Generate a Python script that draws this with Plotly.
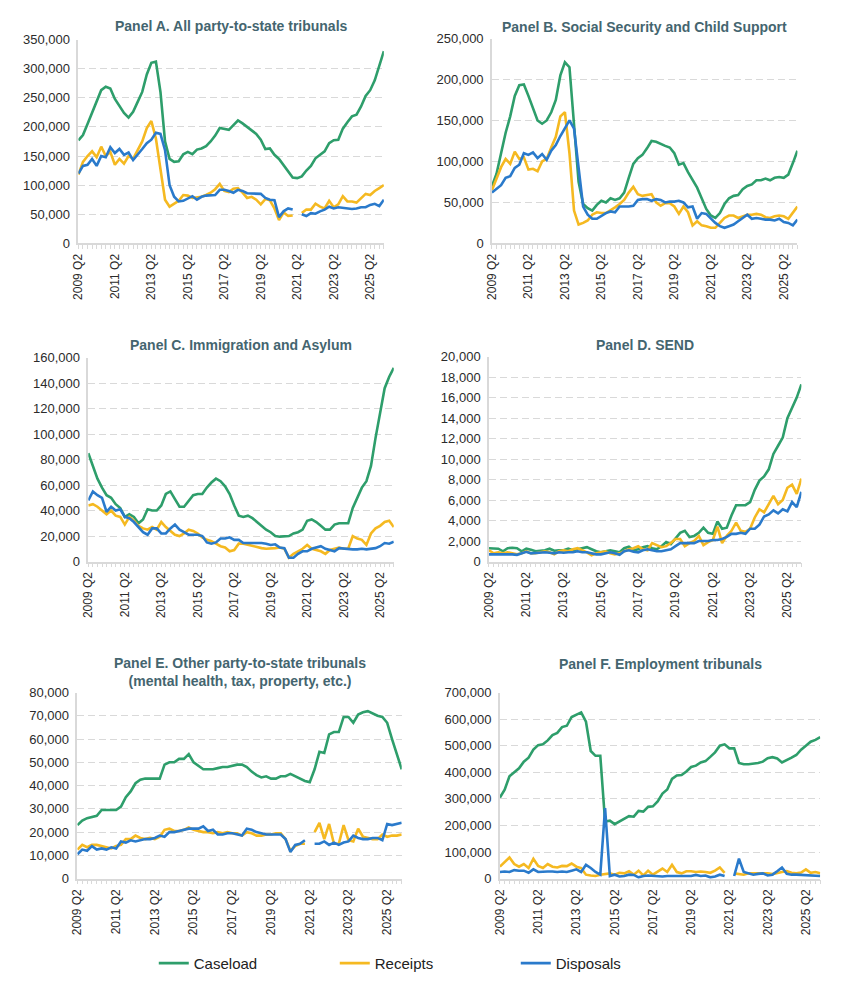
import plotly.graph_objects as go

# ---------------- categories ----------------
QUARTERS = [f"{2009 + (k + 1) // 4} Q{(k + 1) % 4 + 1}" for k in range(68)]  # 2009 Q2 ... 2026 Q1
TICK_LABELS = ["2009 Q2", "2011 Q2", "2013 Q2", "2015 Q2", "2017 Q2",
               "2019 Q2", "2021 Q2", "2023 Q2", "2025 Q2"]

# ---------------- Panel A: All party-to-state tribunals ----------------
a_caseload = [177000, 186000, 205000, 225000, 243000, 263000, 269000, 266000,
              248000, 237000, 224000, 216000, 226000, 243000, 260000, 290000,
              310000, 312000, 260000, 175000, 145000, 140000, 141000, 153000,
              157000, 153000, 161000, 163000, 167000, 175000, 185000, 198000,
              197000, 195000, 203000, 211000, 206000, 200000, 193000, 188000,
              178000, 162000, 163000, 152000, 145000, 135000, 124000, 113000,
              112000, 115000, 125000, 133000, 146000, 152000, 158000, 172000,
              177000, 178000, 197000, 208000, 218000, 221000, 235000, 253000,
              263000, 280000, 305000, 330000]
a_receipts = [118000, 140000, 150000, 158000, 148000, 166000, 150000, 157000,
              135000, 145000, 137000, 150000, 145000, 160000, 175000, 198000,
              210000, 180000, 125000, 75000, 63000, 68000, 73000, 83000,
              82000, 78000, 79000, 80000, 83000, 87000, 93000, 102000,
              90000, 88000, 94000, 95000, 87000, 78000, 80000, 75000,
              67000, 76000, 74000, 60000, 40000, 53000, 47000, 48000,
              None, 52000, 58000, 58000, 68000, 63000, 60000, 73000,
              62000, 67000, 81000, 72000, 72000, 70000, 77000, 85000,
              83000, 90000, 95000, 100000]
a_disposals = [120000, 133000, 135000, 145000, 133000, 150000, 148000, 165000,
               155000, 162000, 152000, 156000, 143000, 152000, 162000, 172000,
               178000, 190000, 188000, 160000, 100000, 80000, 72000, 73000,
               77000, 81000, 75000, 80000, 82000, 83000, 83000, 92000,
               92000, 90000, 87000, 92000, 90000, 86000, 86000, 86000,
               85000, 78000, 75000, 74000, 45000, 55000, 60000, 58000,
               None, 50000, 47000, 52000, 51000, 55000, 58000, 63000,
               60000, 62000, 61000, 60000, 59000, 60000, 62000, 62000,
               66000, 68000, 64000, 75000]

# ---------------- Panel B: Social Security and Child Support ----------------
b_caseload = [70000, 85000, 110000, 135000, 155000, 180000, 193000, 194000,
              180000, 165000, 150000, 146000, 150000, 160000, 175000, 205000,
              221000, 215000, 150000, 75000, 48000, 43000, 40000, 47000,
              52000, 50000, 55000, 53000, 55000, 62000, 80000, 97000,
              104000, 108000, 116000, 125000, 124000, 121000, 119000, 117000,
              110000, 96000, 98000, 87000, 78000, 68000, 55000, 42000,
              34000, 31000, 37000, 48000, 55000, 58000, 59000, 66000,
              70000, 72000, 77000, 77000, 79000, 77000, 80000, 81000,
              80000, 84000, 98000, 113000]
b_receipts = [65000, 80000, 93000, 103000, 97000, 112000, 103000, 105000,
              90000, 91000, 88000, 100000, 103000, 117000, 130000, 155000,
              160000, 110000, 40000, 23000, 25000, 28000, 35000, 38000,
              37000, 37000, 40000, 44000, 48000, 53000, 62000, 69000,
              60000, 58000, 59000, 60000, 50000, 46000, 49000, 49000,
              45000, 36000, 45000, 38000, 22000, 27000, 22000, 21000,
              19000, 19000, 25000, 31000, 34000, 34000, 31000, 33000,
              35000, 35000, 36000, 35000, 32000, 31000, 33000, 34000,
              33000, 30000, 37000, 45000]
b_disposals = [62000, 66000, 71000, 80000, 82000, 92000, 96000, 110000,
               108000, 111000, 104000, 109000, 102000, 113000, 120000, 131000,
               141000, 150000, 140000, 90000, 45000, 35000, 30000, 30000,
               34000, 37000, 39000, 38000, 45000, 45000, 45000, 46000,
               53000, 54000, 54000, 52000, 54000, 53000, 50000, 51000,
               51000, 52000, 50000, 44000, 45000, 30000, 37000, 36000,
               30000, 25000, 21000, 19000, 21000, 23000, 27000, 31000,
               35000, 30000, 31000, 30000, 29000, 29000, 28000, 30000,
               26000, 25000, 22000, 29000]

# ---------------- Panel C: Immigration and Asylum ----------------
c_caseload = [85000, 75000, 65000, 58000, 52000, 50000, 45000, 42000,
              35000, 37000, 35000, 30000, 33000, 41000, 40000, 40000,
              44000, 53000, 55000, 49000, 43000, 43000, 48000, 52000,
              53000, 53000, 58000, 62000, 65000, 63000, 59000, 53000,
              44000, 36000, 35000, 36000, 34000, 31000, 28000, 25000,
              23000, 20000, 19500, 20000, 20000, 22000, 23000, 25000,
              32000, 33000, 31000, 28000, 25000, 25000, 29000, 30000,
              30000, 30000, 42000, 50000, 58000, 63000, 75000, 97000,
              118000, 136000, 145000, 152000]
c_receipts = [44000, 45000, 43000, 40000, 37000, 40000, 36000, 35000,
              29000, 35000, 32000, 28000, 26000, 25000, 27000, 25000,
              31000, 27000, 24000, 21000, 20000, 22000, 25000, 24000,
              22000, 19000, 17000, 16000, 14000, 12000, 11000, 8000,
              9000, 14000, 14000, 13000, 12000, 11000, 10500, 10000,
              10000, 10500, 11000, 10000, 3000, 6000, 8000, 10000,
              13000, 10000, 9000, 8000, 6000, 9000, 10000, 11000,
              10000, 10000, 20000, 18000, 17000, 13000, 22000, 26000,
              28000, 31000, 32000, 27000]
c_disposals = [48000, 55000, 52000, 50000, 39000, 43000, 40000, 41000,
               35000, 34000, 31000, 27000, 23000, 21000, 26000, 26000,
               22000, 22000, 26000, 29000, 25000, 23000, 21000, 21000,
               21000, 20000, 15000, 14000, 15000, 18000, 18000, 19000,
               17000, 17000, 14500, 14500, 14500, 15000, 14500, 14000,
               13000, 13500, 11000, 10500, 3000, 3000, 6000, 8000,
               8000, 10000, 11000, 12000, 10000, 9000, 8000, 10500,
               10000, 10000, 9500, 9500, 10000, 9500, 10000, 10500,
               12000, 14500, 14000, 15500]

# ---------------- Panel D: SEND ----------------
d_caseload = [1300, 1300, 1250, 1000, 1300, 1350, 1300, 1000,
              1250, 1150, 1000, 1050, 1100, 1250, 1050, 1100,
              1100, 1250, 1100, 1200, 1300, 1400, 1200, 1000,
              900, 1000, 1100, 1000, 900, 1300, 1450, 1100,
              1200, 1400, 1500, 1300, 1200, 1500, 1900, 1700,
              2200, 2800, 3000, 2400, 2500, 2800, 3300, 2800,
              2700, 3900, 3200, 3300, 4500, 5500, 5500, 5500,
              5800, 7000, 7900, 8300, 9000, 10500, 11300, 12100,
              14000, 15000, 16000, 17300]
d_receipts = [1100, 800, 900, 800, 900, 800, 700, 800,
              1000, 800, 800, 900, 1000, 900, 700, 1000,
              1100, 1000, 1200, 1300, 1100, 900, 600, 800,
              900, 1000, 800, 700, 800, 1000, 1200, 1300,
              1500, 1200, 1100, 1800, 1600, 1400, 1500, 1800,
              2200, 2200, 1500, 1800, 2000, 2500, 1600, 1900,
              2100, 3400, 1800, 2500, 3000, 3800, 3000, 2900,
              3200, 4300, 5100, 4800, 5600, 6400, 5600, 6000,
              7200, 7500, 6600, 8100]
d_disposals = [700, 700, 700, 700, 750, 700, 650, 800,
               950, 800, 850, 900, 900, 850, 800, 900,
               850, 900, 900, 1000, 900, 900, 800, 700,
               700, 800, 900, 800, 650, 1000, 1100, 950,
               900, 1100, 1200, 1100, 1000, 1000, 1100, 1200,
               1500, 1800, 1800, 1800, 1800, 2000, 2000, 2000,
               2100, 2100, 2200, 2400, 2700, 2700, 2800, 2700,
               3200, 3200, 3600, 4400, 4600, 5000, 4700, 5100,
               4900, 5800, 5300, 6800]

# ---------------- Panel E: Other party-to-state tribunals ----------------
e_caseload = [23000, 25000, 26000, 26500, 27000, 29500, 29500, 29500,
              29500, 31000, 35000, 37500, 41000, 42500, 43000, 43000,
              43000, 43000, 49000, 50000, 50000, 51500, 51500, 53500,
              50000, 48500, 47000, 47000, 47000, 47500, 48000, 48000,
              48500, 49000, 49000, 48000, 46000, 44500, 43500, 44000,
              43000, 43000, 44000, 44000, 45000, 44000, 43000, 42000,
              41500, 47000, 54500, 54000, 62000, 63000, 63000, 69500,
              69500, 67000, 70500, 71500, 72000, 71000, 70000, 69500,
              67000, 60000, 53000, 47000]
e_receipts = [12500, 14500, 13500, 14500, 14500, 14000, 13500, 13000,
              14000, 14500, 17000, 17000, 18500, 17500, 17000, 17500,
              17000, 18000, 21000, 21500, 20500, 20500, 21000, 22000,
              21000, 20500, 20000, 20000, 19500, 20000, 19500, 20000,
              19500, 19500, 18500, 20000, 19500, 18500, 18500, 19000,
              19000, 19500, 19500, 17000, 12000, 14000, 15000, 15000,
              None, 20000, 24000, 17000, 23500, 15000, 15000, 23000,
              16500, 16000, 21500, 18000, 17500, 17000, 17000, 19000,
              18000, 18500, 18500, 19000]
e_disposals = [10500, 12500, 12000, 14000, 12500, 13000, 12500, 13500,
               13000, 16000, 15500, 16500, 16000, 16500, 17000, 17000,
               17500, 18500, 18000, 20000, 20000, 20500, 21000, 21500,
               21500, 21500, 22500, 20500, 21000, 19000, 19000, 19500,
               19500, 19000, 18500, 21500, 21000, 20000, 19500, 19000,
               19000, 19000, 19000, 17000, 11500, 14500, 15000, 16500,
               None, 15000, 15000, 16000, 14500, 15500, 14500, 15500,
               16000, 18500, 17500, 17000, 17000, 17500, 17500, 16500,
               23500, 23000, 23500, 24000]

# ---------------- Panel F: Employment tribunals ----------------
f_caseload = [305000, 335000, 385000, 400000, 415000, 440000, 455000, 485000,
              502000, 505000, 520000, 540000, 548000, 570000, 575000, 608000,
              615000, 625000, 590000, 480000, 462000, 462000, 215000, 218000,
              205000, 215000, 222000, 235000, 233000, 255000, 252000, 270000,
              272000, 290000, 320000, 335000, 375000, 388000, 390000, 403000,
              420000, 425000, 437000, 442000, 458000, 475000, 500000, 505000,
              490000, 490000, 435000, 430000, 430000, 432000, 435000, 440000,
              453000, 457000, 452000, 437000, 445000, 455000, 465000, 485000,
              500000, 515000, 522000, 532000]
f_receipts = [45000, 62000, 80000, 55000, 45000, 55000, 40000, 75000,
              48000, 40000, 55000, 45000, 42000, 48000, 47000, 57000,
              45000, 40000, 15000, 12000, 10000, 15000, 18000, 20000,
              15000, 22000, 20000, 28000, 15000, 30000, 12000, 30000,
              15000, 25000, 38000, 25000, 52000, 25000, 20000, 28000,
              28000, 25000, 27000, 25000, 22000, 30000, 42000, 22000,
              None, 20000, 18000, 15000, 20000, 20000, 22000, 22000,
              20000, 17000, 22000, 25000, 28000, 22000, 20000, 23000,
              35000, 22000, 25000, 20000]
f_disposals = [25000, 27000, 25000, 32000, 30000, 30000, 22000, 35000,
               25000, 27000, 27000, 27000, 25000, 27000, 25000, 30000,
               35000, 25000, 52000, 40000, 25000, 15000, 265000, 10000,
               15000, 8000, 10000, 15000, 14000, 5000, 10000, 12000,
               10000, 8000, 8000, 10000, 10000, 9000, 10000, 11000,
               10000, 14000, 10000, 12000, 5000, 8000, 15000, 10000,
               None, 10000, 75000, 25000, 20000, 15000, 18000, 20000,
               12000, 15000, 28000, 42000, 18000, 15000, 15000, 14000,
               12000, 10000, 10000, 10000]

PANELS = [
    dict(title="Panel A. All party-to-state tribunals", series=(a_caseload, a_receipts, a_disposals),
         ymax=350000, dtick=50000),
    dict(title="Panel B. Social Security and Child Support", series=(b_caseload, b_receipts, b_disposals),
         ymax=250000, dtick=50000),
    dict(title="Panel C. Immigration and Asylum", series=(c_caseload, c_receipts, c_disposals),
         ymax=160000, dtick=20000),
    dict(title="Panel D. SEND", series=(d_caseload, d_receipts, d_disposals),
         ymax=20000, dtick=2000),
    dict(title="Panel E. Other party-to-state tribunals<br>(mental health, tax, property, etc.)",
         series=(e_caseload, e_receipts, e_disposals), ymax=80000, dtick=10000),
    dict(title="Panel F. Employment tribunals", series=(f_caseload, f_receipts, f_disposals),
         ymax=700000, dtick=100000),
]
SERIES_NAMES = ["Caseload", "Receipts", "Disposals"]
COLORS = ["#2E9E6B", "#F5B921", "#2A7ACB"]

for p in PANELS:
    for s in p["series"]:
        assert len(s) == len(QUARTERS), (p["title"], len(s))

# ---------------- layout geometry (pixels) ----------------
W, H = 848, 995
# (x0, x1, ytop, ybottom, title_y)
GEOM = [
    (72, 380, 33, 240, 19),
    (489, 797, 32, 240, 20),
    (82, 390, 356, 563, 343),
    (486, 801, 355, 563, 343),
    (71, 398, 696, 885, 675),
    (497, 820, 696, 885, 667),
]

FONT = "Liberation Sans, Arial, sans-serif"
GRID = "#D9D9D9"
TITLE_COLOR = "#44656F"
TEXT_COLOR = "#2B2B2B"

fig = go.Figure()
ticktext = [q if q in TICK_LABELS else "" for q in QUARTERS]

for k, (p, g) in enumerate(zip(PANELS, GEOM)):
    x0, x1, yt, yb, ty = g
    sfx = "" if k == 0 else str(k + 1)
    for j, (name, vals) in enumerate(zip(SERIES_NAMES, p["series"])):
        fig.add_trace(go.Scatter(
            x=QUARTERS, y=vals, name=name, mode="lines",
            line=dict(color=COLORS[j], width=2.6),
            xaxis="x" + sfx, yaxis="y" + sfx,
            legendgroup=name, showlegend=(k == 0),
            connectgaps=False,
        ))
    fig.layout["xaxis" + sfx] = dict(
        domain=[x0 / W, x1 / W], anchor="y" + sfx, type="category",
        categoryorder="array", categoryarray=QUARTERS,
        range=[0, len(QUARTERS) - 1],
        tickmode="array", tickvals=QUARTERS, ticktext=ticktext,
        tickangle=-90, ticks="outside", ticklen=4, tickcolor=GRID,
        showline=True, linecolor=GRID, linewidth=1.5,
        showgrid=False, zeroline=False,
        tickfont=dict(family=FONT, size=12, color=TEXT_COLOR),
    )
    fig.layout["yaxis" + sfx] = dict(
        domain=[1 - yb / H, 1 - yt / H], anchor="x" + sfx,
        range=[0, p["ymax"]], dtick=p["dtick"], tickformat=",d",
        showline=True, linecolor=GRID, linewidth=1.5,
        showgrid=True, gridcolor=GRID, griddash="7px,4px", gridwidth=1,
        zeroline=False, ticks="", ticklabelstandoff=4,
        tickfont=dict(family=FONT, size=13, color=TEXT_COLOR),
    )
    fig.add_annotation(
        x=(x0 + x1) / 2 / W, y=1 - ty / H, xref="paper", yref="paper",
        text="<b>" + p["title"].replace("<br>", "</b><br><b>") + "</b>",
        showarrow=False, xanchor="center", yanchor="middle",
        font=dict(family=FONT, size=14, color=TITLE_COLOR),
    )

fig.update_layout(
    width=W, height=H,
    margin=dict(l=0, r=0, t=0, b=0),
    paper_bgcolor="white", plot_bgcolor="white",
    font=dict(family=FONT, color="#222222"),
    legend=dict(
        orientation="h", x=148 / W, xanchor="left", y=1 - 971 / H, yanchor="middle",
        font=dict(family=FONT, size=15, color="#222222"),
        entrywidth=136, entrywidthmode="pixels",
        bgcolor="rgba(0,0,0,0)",
    ),
)

fig.write_html("out.html")
